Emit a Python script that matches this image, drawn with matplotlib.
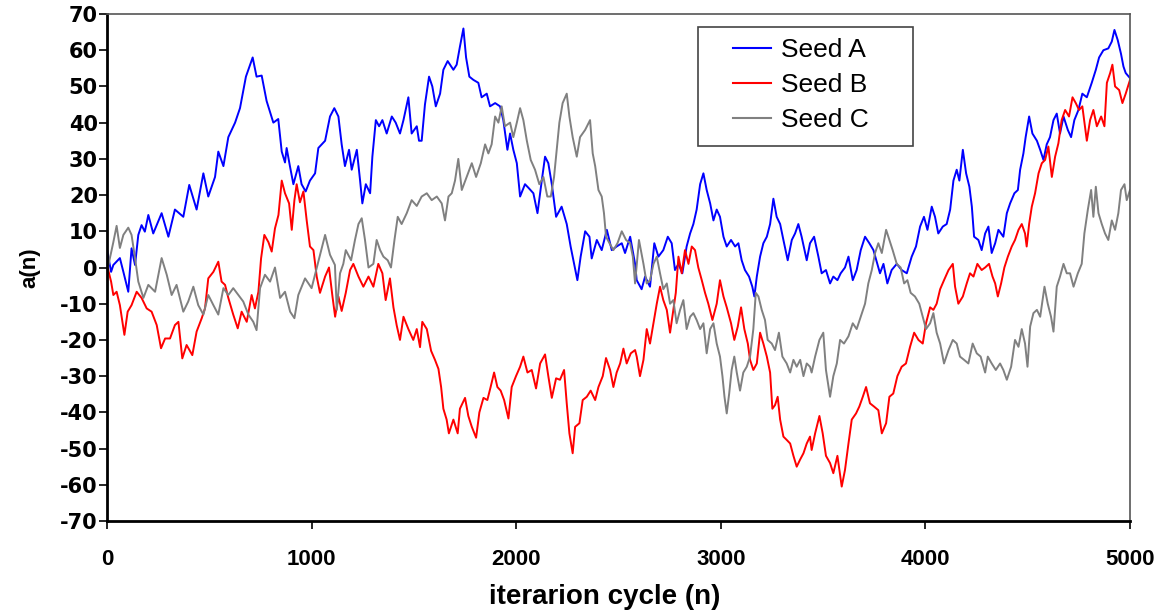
import matplotlib
matplotlib.use("Agg")
import matplotlib.pyplot as plt
from matplotlib.patches import Rectangle

# values: (iteration, a(n))
seed_a_pts = [
    (0, 5), (20, -1.2), (31, 0.7), (63, 2.6), (80, -1.2), (104, -6.7), (120, 5.3), (137, 0.7),
    (153, 9), (169, 11.7), (185, 9.9), (202, 14.5), (226, 9.4), (267, 15), (300, 8.5), (332, 16),
    (373, 14), (402, 22.8), (438, 16), (471, 26), (495, 19.6), (528, 25), (544, 32), (569, 28),
    (593, 36), (626, 40), (650, 44), (679, 52.7), (712, 58), (731, 52.7), (756, 53), (780, 46),
    (813, 40), (837, 41), (854, 32), (870, 29), (878, 33), (894, 28), (911, 23), (935, 28),
    (951, 23), (971, 21), (992, 24), (1017, 26), (1033, 33), (1066, 35), (1090, 41.7), (1111, 44),
    (1131, 41.7), (1147, 34), (1163, 28), (1183, 32.5), (1196, 27), (1221, 32.5), (1237, 24),
    (1248, 17.7), (1265, 23), (1286, 20.5), (1297, 30.6), (1314, 40.7), (1330, 39), (1346, 40.7),
    (1367, 37), (1392, 41.7), (1411, 40), (1432, 37), (1449, 40.7), (1473, 47), (1489, 37),
    (1514, 39), (1525, 35), (1538, 35), (1554, 45), (1574, 52.7), (1590, 50), (1607, 44.5),
    (1628, 48), (1644, 54.6), (1665, 57), (1693, 54.6), (1709, 56), (1725, 61), (1742, 66),
    (1755, 58), (1771, 52.7), (1791, 51.8), (1815, 51), (1831, 47), (1856, 48), (1872, 44.5),
    (1897, 45.4), (1921, 44.5), (1937, 40.7), (1957, 32.5), (1970, 37), (1986, 32.5), (2003, 28.8),
    (2019, 19.6), (2043, 23), (2060, 22), (2084, 20.5), (2104, 15), (2125, 24), (2141, 30.6),
    (2157, 28.8), (2174, 23), (2195, 14), (2222, 16.8), (2247, 12), (2266, 5.8), (2283, 1),
    (2299, -3.5), (2315, 3), (2337, 10), (2358, 8.5), (2369, 2.5), (2394, 7.6), (2418, 4.8),
    (2443, 10.4), (2467, 4.8), (2491, 5.8), (2516, 6.7), (2532, 4), (2557, 8.5), (2581, 1),
    (2589, -3.5), (2613, -6), (2630, -2.5), (2654, -5.3), (2675, 6.7), (2695, 3), (2719, 4.8),
    (2741, 8.5), (2760, 6.7), (2776, -0.7), (2793, 1), (2812, -1.6), (2833, 5.8), (2850, 9.4),
    (2866, 12), (2882, 16), (2899, 23), (2915, 26), (2931, 21.4), (2948, 17.7), (2964, 13),
    (2980, 16), (2996, 14), (3013, 8.5), (3029, 5.8), (3050, 7.6), (3070, 5.8), (3086, 6.7),
    (3102, 2), (3118, -0.7), (3138, -2.5), (3154, -5.3), (3164, -8), (3176, -2.5), (3192, 3),
    (3208, 6.7), (3225, 8.5), (3241, 12), (3257, 19), (3273, 14), (3290, 12), (3306, 7.6),
    (3327, 2), (3347, 7.6), (3363, 9.4), (3379, 12), (3395, 8.5), (3420, 2), (3436, 6.7),
    (3456, 8.5), (3477, 3), (3493, -1.6), (3514, -0.7), (3534, -4.4), (3550, -2.5), (3570, -3.5),
    (3586, -1.6), (3607, 0), (3624, 3), (3645, -3.5), (3664, -0.7), (3684, 4.8), (3705, 8.5),
    (3726, 6.7), (3746, 4.8), (3765, 1), (3778, -1.6), (3795, 1), (3814, -4.4), (3835, -0.7),
    (3860, 1), (3884, -0.7), (3909, -1.6), (3933, 3), (3954, 5.8), (3974, 11.3), (3993, 14),
    (4010, 10.4), (4031, 16.8), (4047, 14), (4063, 9.4), (4085, 11.3), (4104, 12), (4121, 16),
    (4137, 24), (4153, 27), (4166, 24), (4183, 32.5), (4199, 26), (4215, 22.3), (4227, 16.8),
    (4238, 8.5), (4259, 7.6), (4275, 4.8), (4292, 9.4), (4308, 11.3), (4324, 4), (4341, 6.7),
    (4357, 10.4), (4381, 8.5), (4398, 15), (4414, 17.7), (4435, 20.5), (4452, 21.4), (4463, 27),
    (4479, 31.5), (4490, 36), (4507, 41.7), (4523, 37), (4545, 35), (4561, 32.5), (4577, 29.7),
    (4593, 34), (4609, 36), (4626, 40.7), (4642, 42.5), (4658, 37), (4675, 41.7), (4696, 38),
    (4712, 36), (4728, 40.7), (4748, 43.5), (4767, 48), (4789, 47), (4813, 51), (4833, 54.6),
    (4849, 58), (4870, 60), (4894, 60.5), (4911, 62.4), (4924, 65.6), (4940, 62.8), (4956, 59),
    (4968, 55.5), (4979, 53.7), (5000, 52.3),
]

seed_b_pts = [
    (0, 0.7), (20, -3.9), (31, -7.6), (47, -6.7), (63, -10.4), (85, -18.6), (101, -12.2),
    (120, -10.4), (145, -6.7), (169, -8.4), (194, -11.3), (218, -12.2), (243, -15.9), (264, -22.3),
    (284, -19.6), (308, -19.6), (332, -15.9), (349, -15), (368, -25.1), (389, -21.4), (417, -24.2),
    (438, -17.7), (463, -14), (479, -11.3), (495, -3), (520, -1.2), (544, 1.6), (560, -3.9),
    (577, -4.8), (593, -8.4), (617, -13), (639, -16.8), (658, -12.2), (683, -15), (707, -7.6),
    (723, -11.3), (740, -6.7), (753, 2.5), (769, 9), (789, 7), (805, 4.4), (821, 10.8),
    (838, 14.5), (854, 24), (870, 20.5), (890, 17.7), (903, 10.4), (916, 18.6), (927, 23),
    (943, 18), (960, 21), (976, 13), (992, 5.8), (1009, 4.8), (1025, -2.5), (1041, -7),
    (1066, -2.5), (1085, 0), (1102, -8), (1115, -13.6), (1131, -8), (1147, -12), (1167, -7),
    (1188, -0.7), (1204, 1), (1229, -2.5), (1253, -5.3), (1278, -2.5), (1302, -5.3), (1326, 1),
    (1346, -1.6), (1362, -9), (1383, -3), (1400, -11), (1416, -16), (1432, -20), (1449, -13.6),
    (1473, -17), (1497, -20), (1514, -17), (1530, -22), (1541, -15), (1563, -17), (1584, -23),
    (1603, -25.5), (1620, -28), (1633, -33), (1644, -39), (1660, -42), (1671, -45.8), (1693, -42),
    (1714, -45.8), (1725, -39), (1750, -36), (1766, -41), (1783, -44), (1804, -47), (1820, -40),
    (1840, -36), (1859, -36.6), (1875, -33), (1892, -29), (1908, -33), (1924, -34), (1941, -36.6),
    (1962, -41.7), (1978, -33), (1999, -30), (2019, -27.4), (2035, -24.6), (2055, -29),
    (2076, -28.3), (2097, -33.4), (2117, -26.5), (2141, -24), (2157, -30), (2174, -36),
    (2195, -30.6), (2214, -31), (2234, -28.3), (2247, -37.5), (2260, -45.8), (2276, -51.3),
    (2288, -44), (2309, -43), (2325, -36.6), (2345, -35.7), (2364, -34), (2386, -36.6),
    (2402, -33), (2423, -30), (2439, -25), (2459, -28.3), (2475, -33), (2491, -29), (2508, -26.5),
    (2524, -22.4), (2540, -26.5), (2560, -23.7), (2581, -22.8), (2589, -24.6), (2605, -30),
    (2622, -25.5), (2638, -17), (2654, -21), (2671, -15.4), (2687, -10), (2703, -5.3), (2719, -9),
    (2736, -11.7), (2752, -18), (2768, -11.7), (2780, -7), (2793, 3), (2809, -1.6), (2825, 4.8),
    (2842, 1), (2858, 5.8), (2874, 4.8), (2890, 0), (2907, -3.5), (2923, -7), (2939, -10),
    (2959, -14.5), (2980, -10), (2996, -3.5), (3013, -8), (3029, -11), (3050, -15.4), (3066, -20),
    (3083, -16.3), (3099, -11), (3115, -17), (3132, -21), (3143, -25.5), (3159, -28.3),
    (3176, -26.5), (3192, -18), (3208, -21), (3225, -24.6), (3241, -29), (3252, -39), (3265, -38),
    (3278, -35.7), (3290, -42), (3306, -46.7), (3322, -47.6), (3339, -48.6), (3355, -52),
    (3371, -55), (3388, -53), (3404, -51.3), (3420, -48.6), (3436, -46.7), (3444, -50.4),
    (3461, -45.8), (3482, -41), (3498, -45.8), (3514, -52), (3534, -54), (3550, -56.8),
    (3570, -52), (3591, -60.5), (3607, -55.9), (3624, -48.6), (3640, -42), (3661, -40.3),
    (3677, -38.4), (3694, -35.7), (3710, -33), (3729, -37.5), (3749, -38.4), (3770, -39.4),
    (3787, -45.8), (3808, -43), (3824, -35.7), (3843, -34.8), (3863, -30), (3884, -27.4),
    (3905, -26.5), (3925, -21.9), (3945, -18), (3966, -20), (3987, -21), (4003, -15.4),
    (4023, -11), (4039, -11.7), (4055, -10), (4072, -6), (4091, -3.5), (4113, -0.7), (4134, 1),
    (4145, -5.3), (4161, -10), (4183, -8), (4202, -4.4), (4218, -1.6), (4235, -2.5), (4254, 1),
    (4275, -0.7), (4292, 0), (4311, 1), (4328, -2.5), (4341, -4.4), (4354, -8), (4370, -4.4),
    (4386, 0), (4403, 3), (4422, 5.8), (4438, 7.6), (4455, 10.4), (4471, 12), (4487, 9.4),
    (4495, 5.8), (4507, 12), (4520, 16.8), (4536, 20.5), (4553, 26), (4569, 28.8), (4585, 29.7),
    (4601, 33.4), (4618, 25), (4634, 30.6), (4650, 34.3), (4666, 40.7), (4683, 43.5),
    (4702, 41.7), (4719, 47), (4735, 45.4), (4751, 43.5), (4767, 44.5), (4789, 35), (4805, 40.7),
    (4821, 43.5), (4838, 39), (4859, 41.7), (4875, 39), (4887, 51), (4903, 53.7), (4914, 56),
    (4927, 50), (4947, 49), (4963, 45.4), (4979, 48), (5000, 51.8),
]

seed_c_pts = [
    (0, 1), (7, 0.7), (31, 7), (47, 11.5), (63, 5.4), (80, 9), (104, 11), (120, 9), (137, 2.6),
    (153, -3.9), (178, -8.4), (202, -4.8), (235, -6.7), (267, 2.6), (292, -2), (316, -7.6),
    (340, -4.8), (373, -12.2), (397, -9.4), (422, -5.3), (446, -10.4), (471, -13), (495, -7.6),
    (520, -10.4), (544, -13), (569, -5.7), (593, -7.6), (617, -5.7), (642, -7.6), (666, -9.4),
    (691, -13), (715, -15), (731, -17.3), (748, -5.7), (772, -2), (797, -3.9), (821, 0),
    (846, -8.4), (870, -6.7), (895, -12.2), (916, -14), (935, -7.6), (968, -3), (1000, -5.7),
    (1033, 1.6), (1066, 9), (1090, 3.5), (1114, 0.7), (1123, -11.7), (1139, -1.6), (1155, 1),
    (1167, 4.8), (1193, 2), (1212, 7.6), (1229, 12), (1245, 13.6), (1261, 7.6), (1278, 0),
    (1302, 1), (1318, 7.6), (1335, 4.8), (1351, 3), (1372, 2), (1388, 0), (1405, 7.6),
    (1421, 14), (1440, 12), (1465, 15), (1489, 18.6), (1514, 17), (1538, 19.6), (1563, 20.5),
    (1587, 18.6), (1612, 19.6), (1636, 17.7), (1652, 13), (1669, 19.6), (1685, 20.5), (1701, 24),
    (1717, 30), (1734, 21.4), (1758, 25), (1783, 28.8), (1804, 25), (1827, 28.8), (1848, 34),
    (1864, 31.5), (1880, 34), (1897, 41.7), (1913, 40), (1929, 44.5), (1945, 39), (1970, 40),
    (1986, 36), (2003, 40), (2019, 44), (2035, 40.7), (2052, 35), (2071, 29.7), (2092, 27),
    (2113, 23), (2133, 25), (2152, 19.6), (2169, 19.6), (2185, 25), (2198, 32.5), (2211, 40),
    (2227, 45.4), (2247, 48), (2260, 41.7), (2276, 36), (2296, 30.6), (2312, 36), (2337, 38),
    (2361, 40.7), (2374, 31.5), (2386, 28), (2402, 21.4), (2418, 19.6), (2429, 15), (2439, 8.5),
    (2456, 6.7), (2475, 4.8), (2495, 6.7), (2516, 10), (2537, 7.6), (2557, 6.7), (2570, 3),
    (2581, -4.4), (2600, 7.6), (2622, 1), (2638, -4.4), (2654, -3.5), (2671, 1), (2687, 3),
    (2703, -1.6), (2719, -6), (2736, -4.4), (2752, -10), (2768, -9), (2784, -15.4), (2801, -11.7),
    (2817, -9), (2833, -17), (2850, -13.6), (2866, -12.6), (2882, -14.5), (2899, -17),
    (2915, -15.4), (2931, -23.7), (2948, -17), (2964, -15.4), (2980, -21), (2996, -24.6),
    (3008, -30), (3018, -35.7), (3029, -40.3), (3041, -34.8), (3053, -28.3), (3066, -24.6),
    (3078, -29), (3094, -34), (3110, -29), (3127, -27.4), (3143, -24.6), (3159, -17), (3171, -7),
    (3184, -8), (3200, -11.7), (3216, -14.5), (3229, -20), (3249, -21), (3265, -22.8), (3284, -18),
    (3301, -24.6), (3322, -26.5), (3339, -29), (3355, -25.5), (3371, -27.4), (3388, -25.5),
    (3404, -30), (3420, -26.5), (3436, -27.4), (3444, -29), (3461, -24.6), (3482, -20),
    (3501, -18), (3514, -28.3), (3534, -35.7), (3550, -30), (3567, -26.5), (3583, -20),
    (3602, -21), (3624, -19), (3645, -15.4), (3664, -17), (3684, -13.6), (3705, -10),
    (3721, -4.4), (3738, -0.7), (3754, 4), (3770, 6.7), (3787, 4), (3808, 10.4), (3824, 7.6),
    (3840, 4.8), (3860, 1), (3879, 0), (3896, -4.4), (3912, -3.5), (3928, -7), (3949, -8),
    (3970, -10), (3987, -13.6), (4003, -17), (4023, -15.4), (4039, -12.6), (4055, -18),
    (4072, -21), (4091, -26.5), (4113, -22.8), (4134, -20), (4153, -21), (4169, -24.6),
    (4189, -25.5), (4210, -26.5), (4231, -21), (4251, -23.7), (4270, -24.6), (4292, -29),
    (4305, -24.6), (4324, -26.5), (4344, -28.3), (4365, -26.5), (4381, -28.3), (4398, -31),
    (4419, -27.4), (4438, -20), (4455, -21.9), (4471, -17), (4487, -21), (4499, -27.4),
    (4512, -16.3), (4528, -12.6), (4545, -11.7), (4561, -13.6), (4582, -5.3), (4598, -10),
    (4614, -13.6), (4626, -17.7), (4642, -5.3), (4658, -2.5), (4675, 1), (4691, -1.6),
    (4707, -1.6), (4724, -5.3), (4745, -1.6), (4764, 1), (4777, 9.4), (4794, 16), (4810, 21.4),
    (4821, 14), (4833, 22.3), (4846, 15), (4862, 12), (4878, 9.4), (4894, 7.6), (4911, 13),
    (4927, 10.4), (4943, 15), (4956, 21.4), (4973, 23), (4984, 18.6), (5000, 21.4),
]

labels = ["Seed A", "Seed B", "Seed C"]
colors = ["#0000ff", "#ff0000", "#808080"]
x_ticks = [0, 1000, 2000, 3000, 4000, 5000]
y_ticks = list(range(-70, 71, 10))

W, H = 1163, 613
fig = plt.figure(figsize=(W / 100, H / 100), dpi=100)
ax = fig.add_axes([107 / W, 1 - 521 / H, 1023 / W, 507 / H])

for pts, lab, col in zip([seed_a_pts, seed_b_pts, seed_c_pts], labels, colors):
    n = [p[0] for p in pts]
    v = [p[1] for p in pts]
    ax.plot(n, v, color=col, lw=1.4, label=lab)

ax.set_xlim(0, 5000)
ax.set_ylim(-70, 70)
ax.set_xticks(x_ticks)
ax.set_yticks(y_ticks)
ax.set_xticklabels([str(t) for t in x_ticks], fontfamily="Liberation Sans", fontweight="bold", fontsize=16)
ax.set_yticklabels([str(t) for t in y_ticks], fontfamily="DejaVu Sans", fontweight="bold", fontsize=15)
ax.tick_params(axis="both", direction="out", length=6, width=1.2, color="black")
ax.tick_params(axis="x", pad=14)
ax.tick_params(axis="y", pad=0.5)

for side in ["left", "bottom"]:
    ax.spines[side].set_linewidth(2)
    ax.spines[side].set_color("black")
for side in ["top", "right"]:
    ax.spines[side].set_linewidth(1.2)
    ax.spines[side].set_color("#555555")

ax.set_xlabel("iterarion cycle (n)", fontfamily="Liberation Sans", fontweight="bold", fontsize=20)
ax.xaxis.set_label_coords(498 / 1023, -63 / 507)
ax.set_ylabel("a(n)", fontfamily="Liberation Sans", fontweight="bold", fontsize=16)
ax.yaxis.set_label_coords(-67 / 1023, 0.5)

# legend: text and handles without frame, box drawn separately
leg = ax.legend(loc="upper left", bbox_to_anchor=(733 / W, 1 - 38 / H),
                bbox_transform=fig.transFigure, borderaxespad=0, borderpad=0,
                prop={"family": "Liberation Sans", "size": 19}, handlelength=1.45,
                handletextpad=0.36, labelspacing=0.42, frameon=False)
for line in leg.get_lines():
    line.set_linewidth(1.5)
fig.patches.append(Rectangle((698 / W, 1 - 146 / H), 215 / W, 119 / H,
                             transform=fig.transFigure, fill=False,
                             edgecolor="#444444", linewidth=1.2))

fig.savefig("out.png", dpi=100)
